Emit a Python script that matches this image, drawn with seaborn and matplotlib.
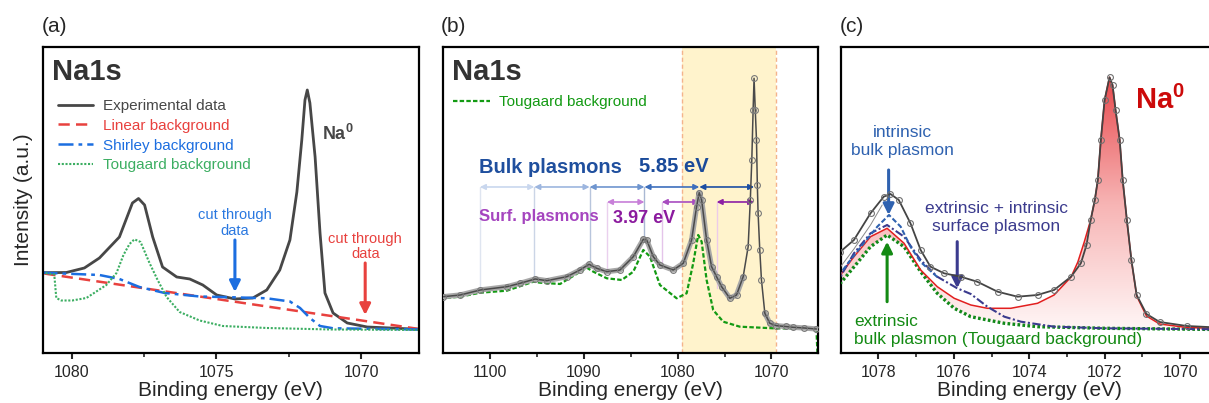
import numpy as np
import pandas as pd
import seaborn as sns
import matplotlib.pyplot as plt
from matplotlib.colors import LinearSegmentedColormap
from matplotlib.patches import Polygon


# ---- panel (a): Na1s with three kinds of background ----
a_exp_e = [1081.0, 1080.18, 1079.56, 1079.04, 1078.35, 1077.90, 1077.69, 1077.48, 1077.20, 1076.86,
           1076.37, 1075.92, 1075.47, 1074.99, 1074.36, 1073.74, 1073.26, 1072.81, 1072.46, 1072.22,
           1072.05, 1071.94, 1071.86, 1071.77, 1071.59, 1071.42, 1071.25, 1070.97, 1070.48, 1069.79,
           1069.0, 1068.0]
a_exp_i = [80.3, 80.5, 85, 95, 116, 150, 154.5, 148, 116, 86,
           76, 74, 68, 58, 54, 55, 63, 83, 113, 161,
           213, 253, 263, 250, 196, 120, 60, 40, 30, 26,
           25, 23.7]
a_lin_e = [1081.0, 1068.0]
a_lin_i = [79.7, 24.0]
a_shir_e = [1081.0, 1079.04, 1078.35, 1077.66, 1076.79, 1075.58, 1074.43, 1073.26, 1072.46, 1072.11,
            1071.77, 1071.42, 1070.97, 1068.0]
a_shir_i = [80.3, 78, 74, 66, 60, 56.5, 55.7, 54.7, 51.5, 45,
            35, 27, 24.7, 23.5]
a_toug_e = [1081.0, 1080.6, 1080.53, 1080.36, 1079.98, 1079.49, 1078.80, 1078.45, 1078.21, 1078.0,
            1077.83, 1077.62, 1077.31, 1077.03, 1076.72, 1076.27, 1075.58, 1074.78, 1073.26, 1071.07,
            1068.0]
a_toug_i = [80.3, 78.5, 55, 52.5, 52.5, 55, 68, 80, 98, 109,
            113.7, 111, 90, 73, 56, 41, 32.5, 27, 25, 23.5,
            23]

# ---- panel (b): wide window with plasmon series ----
b_exp_e = [1105.0, 1103.19, 1101.06, 1098.22, 1096.81, 1095.21, 1093.96, 1091.83, 1090.42, 1089.46,
           1088.64, 1087.57, 1086.16, 1084.74, 1083.67, 1083.31, 1082.61, 1081.90, 1080.48, 1079.41,
           1078.52, 1077.99, 1077.71, 1077.45, 1076.92, 1076.39, 1075.86, 1075.32, 1074.44, 1073.73,
           1073.02, 1072.49, 1072.26, 1072.10, 1071.96, 1071.86, 1071.73, 1071.60, 1071.51, 1071.43,
           1071.25, 1071.07, 1070.71, 1070.18, 1069.47, 1068.5, 1067.70, 1066.5, 1065.2]
b_exp_i = [56.3, 58, 63, 66.3, 69.7, 74, 72.3, 76.3, 83, 88.7,
           84.7, 81.3, 83, 96.3, 113.7, 113, 96.3, 88, 83, 89.7,
           113, 146.3, 160.3, 153, 113, 86.3, 76.3, 66.3, 54.7, 58,
           76.3, 106.3, 153, 193, 243, 274.7, 243, 213, 168, 140,
           103, 73, 39.7, 29.7, 27.3, 26.5, 25.7, 25, 24]
b_toug_e = [1105.0, 1103.19, 1101.06, 1098.22, 1095.39, 1094.68, 1092.55, 1089.70, 1089.0, 1087.57,
            1085.97, 1084.74, 1083.67, 1082.96, 1081.90, 1080.12, 1079.05, 1078.35, 1077.82, 1077.45,
            1076.92, 1076.22, 1075.15, 1073.38, 1069.83, 1065.21, 1065.1]
b_toug_i = [54.7, 56.3, 60.3, 62.3, 71.3, 70.3, 69, 85.3, 81.3, 74.7,
            73, 81.3, 103, 96.3, 68, 54.7, 59.7, 89.7, 118, 111.3,
            73, 43, 31.3, 26.3, 24.7, 24, 0]
bulk_pos = [1101.1, 1095.3, 1089.4, 1083.55, 1077.7, 1071.85]
bulk_drop = [63, 72, 89, 113]
surf_start = [1087.55, 1081.7, 1075.85]
surf_end = [1083.55, 1077.7, 1071.85]
surf_drop = [83, 91, 65]

# ---- panel (c): zoom on the first bulk plasmon ----
c_exp_e = [1079.01, 1078.65, 1078.21, 1077.86, 1077.68, 1077.46, 1077.15, 1076.88, 1076.62, 1076.26,
           1075.82, 1075.38, 1074.84, 1074.31, 1073.78, 1073.34, 1072.89, 1072.63, 1072.48, 1072.37,
           1072.26, 1072.18, 1072.10, 1072.0, 1071.87, 1071.79, 1071.71, 1071.60, 1071.52, 1071.41,
           1071.29, 1071.15, 1070.89, 1070.54, 1069.82, 1069.0]
c_exp_i = [101.3, 113, 139.7, 156.3, 159, 153, 129.7, 103, 86.3, 79.7,
           76.3, 71.3, 61.3, 56.3, 58, 63, 76.3, 89.7, 108, 133,
           153, 173, 213, 253, 275.7, 268, 243, 213, 173, 133,
           93, 58, 39, 31, 27, 25.5]
c_red_e = [1079.01, 1078.65, 1078.21, 1077.77, 1077.32, 1076.88, 1076.44, 1075.99, 1075.55, 1075.11,
           1074.49, 1073.78, 1073.34, 1072.89, 1072.71, 1072.54, 1072.37, 1072.26, 1072.18, 1072.10,
           1072.0, 1071.87, 1071.79, 1071.71, 1071.60, 1071.52, 1071.41, 1071.29, 1071.15, 1070.89,
           1070.54, 1069.82, 1069.0]
c_red_i = [78, 96.3, 116.3, 124.7, 109.7, 83, 66.3, 54.7, 48, 44.7,
           44.7, 49.7, 58, 76, 91, 111, 133, 153, 173, 213,
           253, 275.7, 268, 243, 213, 173, 133, 93, 57, 37,
           29, 25.5, 24.5]
c_surf_e = [1079.01, 1078.65, 1078.21, 1077.77, 1077.32, 1076.88, 1076.44, 1075.91, 1075.55, 1075.11,
            1074.66, 1074.22, 1073.34, 1072.01, 1069.0]
c_surf_i = [76.3, 99.7, 119.7, 128, 116.3, 93, 76.3, 64.7, 59, 46.3,
            36.3, 31.3, 26.3, 24.7, 23.7]
c_bulk_e = [1079.01, 1078.74, 1078.39, 1078.03, 1077.72, 1077.41, 1077.15, 1076.88, 1076.44]
c_bulk_i = [79.7, 93, 109.7, 126.3, 138, 126.3, 106.3, 91, 76]
c_toug_e = [1079.01, 1078.57, 1078.21, 1077.77, 1077.32, 1076.88, 1076.44, 1075.99, 1075.55, 1074.66,
            1073.78, 1072.01, 1069.0]
c_toug_i = [69.7, 89.7, 106.3, 118, 106.3, 81.3, 59.7, 44.7, 36.3, 29.7,
            26.3, 24.7, 23.5]
c_fit_e = [1079.01, 1078.65, 1078.21, 1077.9]
c_fit_i = [86, 104, 128, 148]

sns.set_style('ticks')
plt.rcParams['font.family'] = ['Liberation Sans', 'DejaVu Sans']
plt.rcParams['mathtext.fontset'] = 'custom'
plt.rcParams['mathtext.bf'] = 'Liberation Sans:bold'
plt.rcParams['mathtext.rm'] = 'Liberation Sans'
plt.rcParams['axes.linewidth'] = 1.6
plt.rcParams['axes.edgecolor'] = 'black'

fig = plt.figure(figsize=(12.09, 4.03), dpi=100)
ax1 = fig.add_axes([0.0353, 0.1241, 0.3113, 0.7593])
ax2 = fig.add_axes([0.3667, 0.1241, 0.3102, 0.7593])
ax3 = fig.add_axes([0.6954, 0.1241, 0.3118, 0.7593])

dark = '#474747'


def line(ax, e, i, **kw):
    sns.lineplot(x=e, y=i, ax=ax, errorbar=None, **kw)


# ---------------- (a) ----------------
line(ax1, a_exp_e, a_exp_i, color=dark, lw=2, label='Experimental data')
line(ax1, a_lin_e, a_lin_i, color='#e8413e', lw=1.8, linestyle=(0, (4.5, 2.5)), label='Linear background')
line(ax1, a_shir_e, a_shir_i, color='#1c6ee0', lw=1.8, linestyle=(0, (6, 2, 1.5, 2)), label='Shirley background')
line(ax1, a_toug_e, a_toug_i, color='#3cae62', lw=1.5, linestyle=(0, (1, 0.8)), label='Tougaard background')
ax1.legend(loc='upper left', bbox_to_anchor=(0.04, 0.83), frameon=False, fontsize=11,
           labelcolor='linecolor', handlelength=2.3, handletextpad=0.65, labelspacing=0.38,
           borderpad=0, borderaxespad=0)
ax1.text(0.025, 0.892, 'Na1s', transform=ax1.transAxes, fontsize=21, fontweight='bold',
         color='#333333', va='baseline')
ax1.text(1071.36, 219, r'$\mathbf{Na^0}$', fontsize=13, color=dark, va='center', ha='left')
ax1.annotate('', xy=(1074.36, 61), xytext=(1074.36, 113),
             arrowprops=dict(arrowstyle='-|>', color='#1c6ee0', lw=2.2, mutation_scale=16, shrinkA=0, shrinkB=0))
ax1.text(1074.36, 130, 'cut through\ndata', color='#2a78e0', fontsize=10.5, ha='center', va='center',
         linespacing=1.1)
ax1.annotate('', xy=(1069.86, 38), xytext=(1069.86, 90),
             arrowprops=dict(arrowstyle='-|>', color='#e8413e', lw=2.2, mutation_scale=16, shrinkA=0, shrinkB=0))
ax1.text(1069.86, 106.5, 'cut through\ndata', color='#e8413e', fontsize=10.5, ha='center', va='center',
         linespacing=1.1)
ax1.set_xlim(1081, 1068)
ax1.set_xticks([1080, 1075, 1070])
ax1.set_xticks([1077.5, 1072.5], minor=True)
ax1.set_ylabel('Intensity (a.u.)', fontsize=15, labelpad=7)

# ---------------- (b) ----------------
ax2.axvspan(1079.5, 1069.5, color='#fff3cc', zorder=0, lw=0)
for xv in (1079.5, 1069.5):
    ax2.axvline(xv, color='#f4b38c', lw=1, linestyle=(0, (3, 2)), zorder=0.5)
line(ax2, b_toug_e, b_toug_i, color='#139a13', lw=1.6, linestyle=(0, (2, 1)), label='Tougaard background')
# light band under the flat stretches stands in for the densely packed data circles
line(ax2, b_exp_e[:31], b_exp_i[:31], color='#a8a8a8', lw=3.8, zorder=3.5)
line(ax2, b_exp_e[42:], b_exp_i[42:], color='#a8a8a8', lw=3.8, zorder=3.5)
line(ax2, b_exp_e, b_exp_i, color='#4a4a4a', lw=1.1, marker='o', markersize=4.2, mfc='none',
     mec='#7a7a7a', mew=0.8, zorder=4)
ax2.legend(loc='upper left', bbox_to_anchor=(0.026, 0.842), frameon=False, fontsize=11,
           labelcolor='linecolor', handlelength=2.4, handletextpad=0.6, borderpad=0, borderaxespad=0)
ax2.text(0.022, 0.892, 'Na1s', transform=ax2.transAxes, fontsize=21, fontweight='bold',
         color='#333333', va='baseline')

bulk_cols = ['#c9d7ee', '#9db6df', '#6f95cf', '#3d6fbd', '#1c4ea3']
drop_cols = ['#dfe5f0', '#cbd5e6', '#b8c5dc', '#a9b8d3']
for k in range(4):
    ax2.plot([bulk_pos[k], bulk_pos[k]], [166, bulk_drop[k]], color=drop_cols[k], lw=1, zorder=1)
for k in range(5):
    ax2.annotate('', xy=(bulk_pos[k + 1], 166), xytext=(bulk_pos[k], 166),
                 arrowprops=dict(arrowstyle='<|-|>', color=bulk_cols[k], lw=1.2, mutation_scale=8,
                                 shrinkA=0, shrinkB=0))
surf_cols = ['#c77fd8', '#a84cc0', '#8c1ea4']
sdrop_cols = ['#ead0ee', '#e4c4ea', '#eccbe9']
for k in range(3):
    ax2.plot([surf_start[k], surf_start[k]], [151, surf_drop[k]], color=sdrop_cols[k], lw=1, zorder=1)
    ax2.annotate('', xy=(surf_end[k], 151), xytext=(surf_start[k], 151),
                 arrowprops=dict(arrowstyle='<|-|>', color=surf_cols[k], lw=1.2, mutation_scale=8,
                                 shrinkA=0, shrinkB=0))
ax2.text(1101.17, 185.5, 'Bulk plasmons', color='#1f4f9e', fontsize=14.5, fontweight='bold', va='center')
ax2.text(1084.13, 186, '5.85 eV', color='#1a4a9a', fontsize=14.5, fontweight='bold', va='center')
ax2.text(1101.17, 136.3, 'Surf. plasmons', color='#a545bf', fontsize=12, fontweight='bold', va='center')
ax2.text(1086.93, 134, '3.97 eV', color='#8b1a9e', fontsize=13, fontweight='bold', va='center')
ax2.set_xlim(1105, 1065)
ax2.set_xticks([1100, 1090, 1080, 1070])
ax2.set_xticks([1095, 1085, 1075], minor=True)

# ---------------- (c) ----------------
poly_pts = list(zip(c_red_e, c_red_i)) + list(zip(c_toug_e, c_toug_i))[::-1]
poly = Polygon(poly_pts, closed=True, facecolor='none', edgecolor='none')
ax3.add_patch(poly)
grad_cmap = LinearSegmentedColormap.from_list('na', ['#fff6f6', '#f7b4b4', '#e84a4e'])
ramp = np.linspace(0, 1, 256).reshape(-1, 1)
im = ax3.imshow(ramp, extent=[1069, 1079, 23, 276], origin='lower', aspect='auto', cmap=grad_cmap, zorder=1)
im.set_clip_path(poly)

line(ax3, c_toug_e, c_toug_i, color='#12891a', lw=2.4, linestyle=(0, (0.8, 0.7)), zorder=3)
line(ax3, c_red_e, c_red_i, color='#e21f1f', lw=1.1, zorder=3)
line(ax3, c_surf_e, c_surf_i, color='#3b3b8e', lw=1.5, linestyle=(0, (4, 1.2, 1, 1.2)), zorder=3)
line(ax3, c_bulk_e, c_bulk_i, color='#2f62b0', lw=1.5, linestyle=(0, (2.5, 1.2)), zorder=3)
line(ax3, c_fit_e, c_fit_i, color='#8a8a8a', lw=0.7, zorder=3)
line(ax3, c_exp_e, c_exp_i, color='#444444', lw=1.3, marker='o', markersize=4.2, mfc='none',
     mec='#707070', mew=0.8, zorder=4)

ax3.text(1071.2, 253, r'$\mathbf{Na^0}$', color='#cc0a0a', fontsize=21, va='center', ha='left')
ax3.text(1077.37, 211.7, 'intrinsic\nbulk plasmon', color='#2f62b0', fontsize=12.5, ha='center',
         va='center', linespacing=1.25)
ax3.annotate('', xy=(1077.73, 138), xytext=(1077.73, 183),
             arrowprops=dict(arrowstyle='-|>', color='#2f62b0', lw=2.2, mutation_scale=16, shrinkA=0, shrinkB=0))
ax3.text(1074.87, 135, 'extrinsic + intrinsic\nsurface plasmon', color='#3b3b8e', fontsize=12.5,
         ha='center', va='center', linespacing=1.25)
ax3.annotate('', xy=(1075.91, 64.7), xytext=(1075.91, 111.3),
             arrowprops=dict(arrowstyle='-|>', color='#3b3b8e', lw=2.2, mutation_scale=16, shrinkA=0, shrinkB=0))
ax3.text(1078.65, 22.5, 'extrinsic\nbulk plasmon (Tougaard background)', color='#138a13', fontsize=12.5,
         ha='left', va='center', linespacing=1.3)
ax3.annotate('', xy=(1077.77, 111.3), xytext=(1077.77, 51.3),
             arrowprops=dict(arrowstyle='-|>', color='#138a13', lw=2.2, mutation_scale=16, shrinkA=0, shrinkB=0))
ax3.set_xlim(1079, 1069)
ax3.set_xticks([1078, 1076, 1074, 1072, 1070])
ax3.set_xticks([1077, 1075, 1073, 1071], minor=True)

for ax in (ax1, ax2, ax3):
    ax.set_ylim(0, 306)
    ax.set_yticks([])
    ax.set_xlabel('Binding energy (eV)', fontsize=15, labelpad=1)
    if ax is not ax1:
        ax.set_ylabel('')
    ax.tick_params(axis='x', which='major', direction='out', length=4.5, width=1.5, labelsize=11.5, pad=4)
    ax.tick_params(axis='x', which='minor', direction='out', length=3, width=1.2)
    for s in ax.spines.values():
        s.set_visible(True)
        s.set_linewidth(1.6)
        s.set_color('black')

fig.text(42 / 1209, 1 - 27 / 403, '(a)', fontsize=15, va='center')
fig.text(441 / 1209, 1 - 27 / 403, '(b)', fontsize=15, va='center')
fig.text(840 / 1209, 1 - 27 / 403, '(c)', fontsize=15, va='center')

fig.savefig('out.png', dpi=100)
